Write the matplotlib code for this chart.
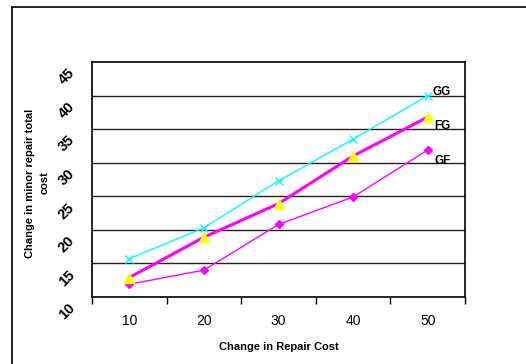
import numpy as np
import matplotlib
matplotlib.use('Agg')
import matplotlib.pyplot as plt
import matplotlib.transforms as mtransforms
from matplotlib.lines import Line2D

plt.rcParams['font.family'] = ['Liberation Sans', 'DejaVu Sans']

repair_cost = ['10', '20', '30', '40', '50']
gg = [15.7, 20.3, 27.3, 33.5, 40.0]
fg = [12.9, 18.9, 23.9, 31.0, 36.8]
gf = [11.9, 14.0, 20.8, 24.9, 31.9]
y_ticks = [10, 15, 20, 25, 30, 35, 40, 45]

fig = plt.figure(figsize=(5.26, 3.64), dpi=100)
ax = fig.add_axes([92/526, 67/364, (465-92)/526, (297-62)/364])

x = np.arange(len(repair_cost))
ax.plot(x, gg, color='#00FFFF', lw=1, marker='x', ms=6, mew=1, zorder=3)
ax.plot(x, fg, color='#FF00FF', lw=2.2, marker='^', ms=7, mfc='#FFFF00', mec='#FFFF00', zorder=4)
ax.plot(x, gf, color='#FF00FF', lw=1, marker='D', ms=4, mfc='#FF00FF', mec='#FF00FF', zorder=3)

ax.text(x[-1] + 0.07, gg[-1] + 0.5, 'GG', fontsize=8.5, fontweight='bold', va='center')
ax.text(x[-1] + 0.09, fg[-1] - 1.3, 'FG', fontsize=8.5, fontweight='bold', va='center')
ax.text(x[-1] + 0.09, gf[-1] - 1.7, 'GF', fontsize=8.5, fontweight='bold', va='center')

ax.set_xlim(-0.5, len(repair_cost) - 0.5)
ax.set_ylim(10, 45)
for v in y_ticks[1:-1]:
    ax.axhline(v, color='#222222', lw=1, zorder=1)

ax.set_xticks(np.arange(len(repair_cost) + 1) - 0.5, minor=False)
ax.set_xticklabels([])
ax.set_xticks(x, minor=True)
ax.set_xticklabels(repair_cost, minor=True, fontsize=10)
ax.tick_params(axis='x', which='major', direction='out', length=5, width=1)
ax.tick_params(axis='x', which='minor', length=0, pad=12)

ax.set_yticks(y_ticks)
ax.set_yticklabels([str(v) for v in y_ticks], fontsize=10.5, fontweight='bold',
                   rotation=45, rotation_mode='anchor', ha='right', va='center')
ax.tick_params(axis='y', length=0, pad=14)
off = mtransforms.ScaledTranslation(0, -9/100, fig.dpi_scale_trans)
for lab in ax.get_yticklabels():
    lab.set_transform(lab.get_transform() + off)

for s in ax.spines.values():
    s.set_color('black')
    s.set_linewidth(1.2)

ax.set_xlabel('Change in Repair Cost', fontsize=8, fontweight='bold', labelpad=10)
fig.text(37/526, 1 - 183/364, 'Change in minor repair total\ncost', fontsize=8,
         fontweight='bold', rotation=90, ha='center', va='center',
         multialignment='center', linespacing=1.6)

fig.add_artist(Line2D([11.5/526, 11.5/526], [0, 1 - 6.5/364], color='black', lw=1.2))
fig.add_artist(Line2D([11.5/526, 1], [1 - 6.5/364, 1 - 6.5/364], color='black', lw=1.2))

fig.savefig('out.png', dpi=100)
